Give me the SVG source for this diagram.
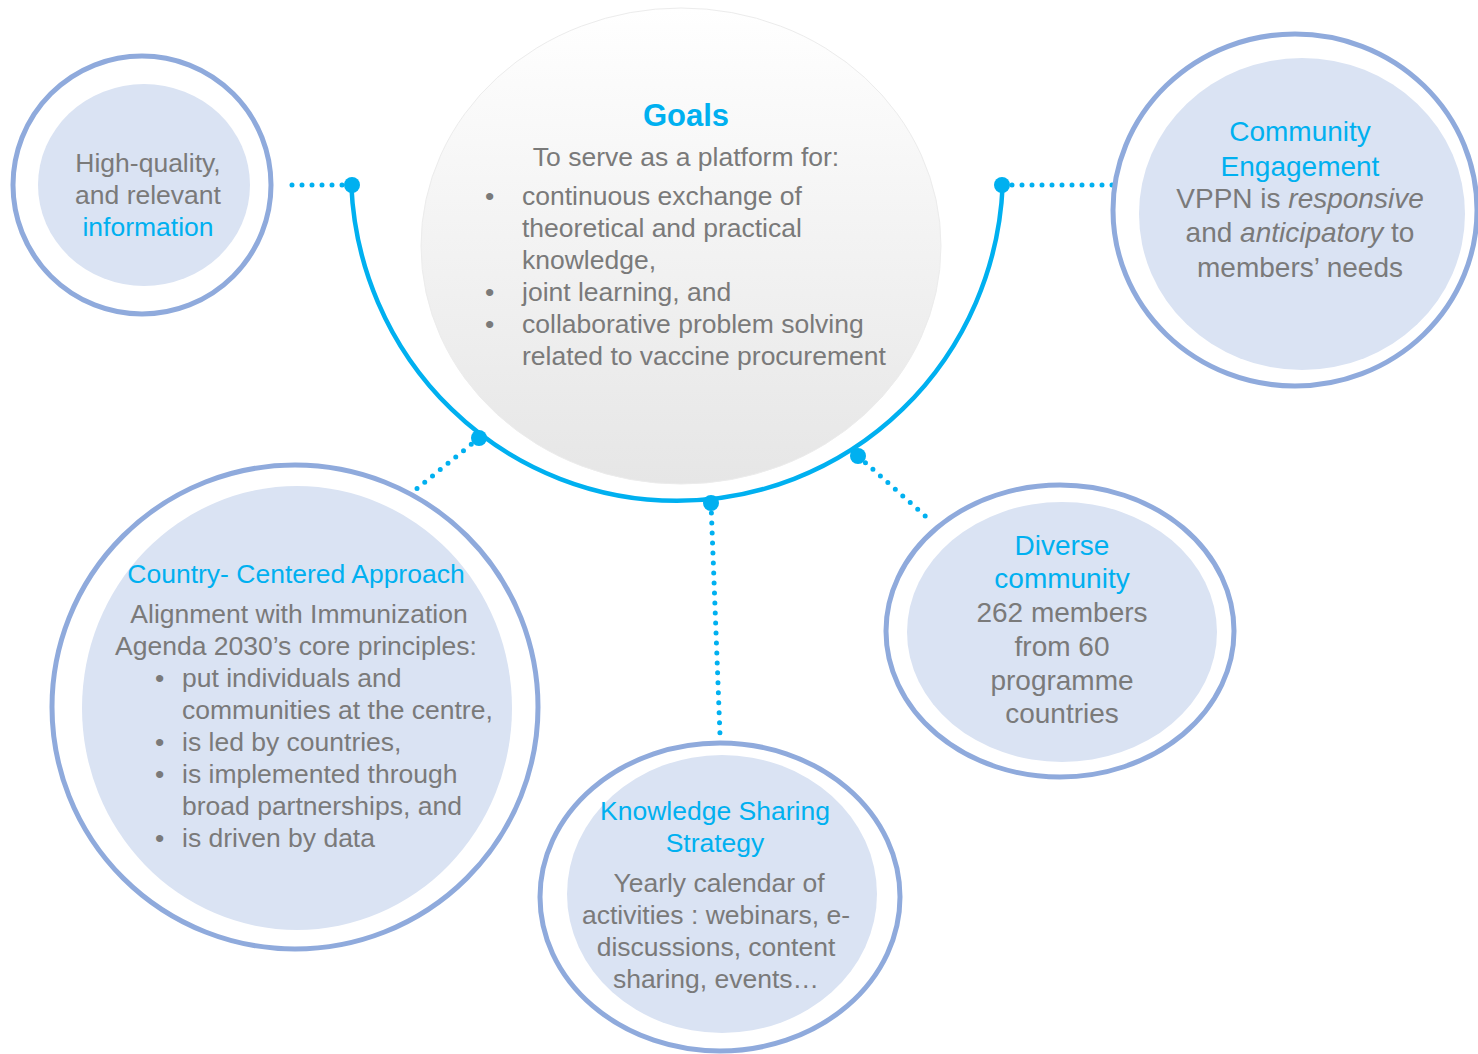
<svg xmlns="http://www.w3.org/2000/svg" width="1478" height="1054" viewBox="0 0 1478 1054">
<defs>
<linearGradient id="gg" x1="0" y1="0" x2="0" y2="1">
<stop offset="0" stop-color="#ffffff"/>
<stop offset="1" stop-color="#e6e6e6"/>
</linearGradient>
<style>
.ring{fill:#ffffff;stroke:#8faadc;stroke-width:5}
.inner{fill:#dae3f3}
.t{font-family:"Liberation Sans",Arial,sans-serif;font-size:26.5px;fill:#7a7a7a}
.b{fill:#00b0f0}
.c{text-anchor:middle}
.l28{font-size:28px}
.dot{stroke:#00b0f0;stroke-width:5;stroke-linecap:round;stroke-dasharray:0 10;fill:none}
.knob{fill:#00b0f0}
</style>
</defs>
<rect width="1478" height="1054" fill="#ffffff"/>

<g id="goals">
<ellipse cx="681" cy="246" rx="260" ry="238" fill="url(#gg)" stroke="#ececec" stroke-width="1"/>
<text class="t c b" x="686" y="126" style="font-weight:bold;font-size:31px">Goals</text>
<text class="t c" x="686" y="166">To serve as a platform for:</text>
<text class="t" x="485" y="205">•</text>
<text class="t" x="522" y="205">continuous exchange of</text>
<text class="t" x="522" y="237">theoretical and practical</text>
<text class="t" x="522" y="269">knowledge,</text>
<text class="t" x="485" y="301">•</text>
<text class="t" x="522" y="301">joint learning, and</text>
<text class="t" x="485" y="333">•</text>
<text class="t" x="522" y="333">collaborative problem solving</text>
<text class="t" x="522" y="365">related to vaccine procurement</text>
</g>

<g id="connectors">
<path d="M351.3,185 A326,330 0 0 0 1002.7,185" fill="none" stroke="#00b0f0" stroke-width="4.5"/>
<line class="dot" x1="342" y1="185" x2="282" y2="185"/>
<line class="dot" x1="1012" y1="185" x2="1122" y2="185"/>
<line class="dot" x1="479" y1="438" x2="403" y2="500"/>
<line class="dot" x1="711" y1="503" x2="720" y2="735"/>
<line class="dot" x1="858" y1="456" x2="932" y2="522"/>
<circle class="knob" cx="352" cy="185" r="8"/>
<circle class="knob" cx="1002" cy="185" r="8"/>
<circle class="knob" cx="479" cy="438" r="8"/>
<circle class="knob" cx="711" cy="503" r="8"/>
<circle class="knob" cx="858" cy="456" r="8"/>
</g>

<g id="info">
<circle class="ring" cx="142" cy="185" r="129"/>
<ellipse class="inner" cx="144" cy="185" rx="106" ry="101"/>
<text class="t c" x="148" y="172">High-quality,</text>
<text class="t c" x="148" y="204">and relevant</text>
<text class="t c b" x="148" y="236">information</text>
</g>

<g id="community">
<ellipse class="ring" cx="1295" cy="210" rx="182" ry="176"/>
<ellipse class="inner" cx="1302" cy="214" rx="163" ry="156"/>
<text class="t c b l28" x="1300" y="141">Community</text>
<text class="t c b l28" x="1300" y="176">Engagement</text>
<text class="t c l28" x="1300" y="208">VPPN is <tspan font-style="italic">responsive</tspan></text>
<text class="t c l28" x="1300" y="242">and <tspan font-style="italic">anticipatory</tspan> to</text>
<text class="t c l28" x="1300" y="277">members’ needs</text>
</g>

<g id="country">
<ellipse class="ring" cx="295" cy="707" rx="243" ry="242"/>
<ellipse class="inner" cx="297" cy="708" rx="215" ry="222"/>
<text class="t c b" x="296" y="583">Country- Centered Approach</text>
<text class="t c" x="299" y="623">Alignment with Immunization</text>
<text class="t c" x="296" y="655">Agenda 2030’s core principles:</text>
<text class="t" x="155" y="687">•</text>
<text class="t" x="182" y="687">put individuals and</text>
<text class="t" x="182" y="719">communities at the centre,</text>
<text class="t" x="155" y="751">•</text>
<text class="t" x="182" y="751">is led by countries,</text>
<text class="t" x="155" y="783">•</text>
<text class="t" x="182" y="783">is implemented through</text>
<text class="t" x="182" y="815">broad partnerships, and</text>
<text class="t" x="155" y="847">•</text>
<text class="t" x="182" y="847">is driven by data</text>
</g>

<g id="knowledge">
<ellipse class="ring" cx="720" cy="897" rx="180" ry="154"/>
<ellipse class="inner" cx="722" cy="894" rx="155" ry="139"/>
<text class="t c b" x="715" y="820">Knowledge Sharing</text>
<text class="t c b" x="715" y="852">Strategy</text>
<text class="t c" x="719" y="892">Yearly calendar of</text>
<text class="t c" x="716" y="924">activities : webinars, e-</text>
<text class="t c" x="716" y="956">discussions, content</text>
<text class="t c" x="716" y="988">sharing, events…</text>
</g>

<g id="diverse">
<ellipse class="ring" cx="1060" cy="631" rx="174" ry="146"/>
<ellipse class="inner" cx="1062" cy="632" rx="155" ry="130"/>
<text class="t c b l28" x="1062" y="555">Diverse</text>
<text class="t c b l28" x="1062" y="588">community</text>
<text class="t c l28" x="1062" y="622">262 members</text>
<text class="t c l28" x="1062" y="656">from 60</text>
<text class="t c l28" x="1062" y="690">programme</text>
<text class="t c l28" x="1062" y="723">countries</text>
</g>
</svg>
